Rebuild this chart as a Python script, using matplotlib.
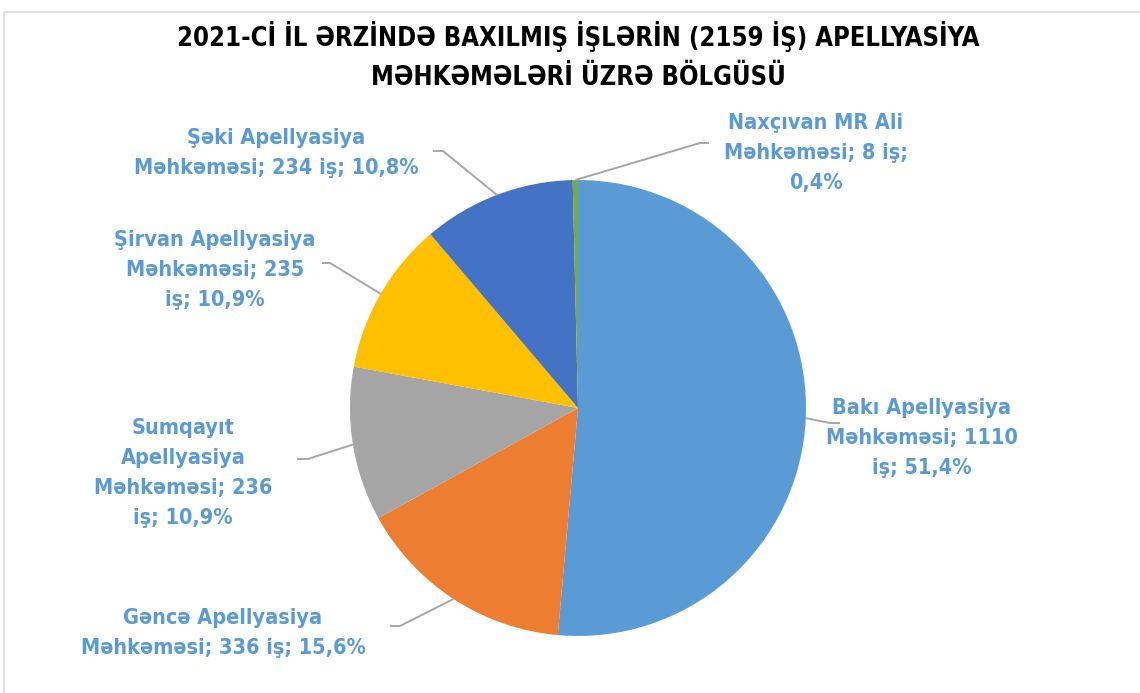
import matplotlib
matplotlib.use("Agg")
import matplotlib.pyplot as plt
from matplotlib.patches import Rectangle
import numpy as np

courts = ["Bakı Apellyasiya Məhkəməsi", "Gəncə Apellyasiya Məhkəməsi",
          "Sumqayıt Apellyasiya Məhkəməsi", "Şirvan Apellyasiya Məhkəməsi",
          "Şəki Apellyasiya Məhkəməsi", "Naxçıvan MR Ali Məhkəməsi"]
cases = [1110, 336, 236, 235, 234, 8]
label_texts = [
    "Bakı Apellyasiya\nMəhkəməsi; 1110\niş; 51,4%",
    "Gəncə Apellyasiya\nMəhkəməsi; 336 iş; 15,6%",
    "Sumqayıt\nApellyasiya\nMəhkəməsi; 236\niş; 10,9%",
    "Şirvan Apellyasiya\nMəhkəməsi; 235\niş; 10,9%",
    "Şəki Apellyasiya\nMəhkəməsi; 234 iş; 10,8%",
    "Naxçıvan MR Ali\nMəhkəməsi; 8 iş;\n0,4%",
]
colors = ["#5B9BD5", "#ED7D31", "#A5A5A5", "#FFC000", "#4472C4", "#70AD47"]
title = "2021-Cİ İL ƏRZİNDƏ BAXILMIŞ İŞLƏRİN (2159 İŞ) APELLYASİYA\nMƏHKƏMƏLƏRİ ÜZRƏ BÖLGÜSÜ"

W, H = 1140, 693
fig = plt.figure(figsize=(W / 100, H / 100), dpi=100)
fig.patch.set_facecolor("white")

cx, cy, R = 578, 408, 228
ax = fig.add_axes([(cx - R) / W, (H - cy - R) / H, 2 * R / W, 2 * R / H])
ax.pie(cases, colors=colors, startangle=90, counterclock=False, radius=1,
       wedgeprops=dict(linewidth=0))
ax.set_xlim(-1, 1)
ax.set_ylim(-1, 1)
ax.set_aspect("auto")
ax.axis("off")

ov = fig.add_axes([0, 0, 1, 1], zorder=5)
ov.set_xlim(0, W)
ov.set_ylim(H, 0)
ov.axis("off")
ov.patch.set_alpha(0)
ov.add_patch(Rectangle((3.5, 11.5), W, H, fill=False, edgecolor="#D9D9D9", lw=1.2))

ov.text(cx, 56, title, ha="center", va="center", fontsize=18.4, fontweight="bold",
        family="DejaVu Sans", fontstretch="condensed", linespacing=1.62, color="black")

label_pos = [
    (922, 438, 830, 840, 423),
    (223, 633, 400, 390, 626),
    (183, 473, 308, 297, 459),
    (215, 270, 330, 322, 263),
    (276, 153, 443, 433, 151),
    (816, 153, 700, 709, 143),
]

total = sum(cases)
start = 90.0
for i, v in enumerate(cases):
    span = 360.0 * v / total
    mid = np.deg2rad(start - span / 2)
    start -= span
    px = cx + R * np.cos(mid)
    py = cy - R * np.sin(mid)
    tx, ty, ex, endx, ey = label_pos[i]
    ov.plot([px, ex, endx], [py, ey, ey], color="#A6A6A6", lw=1.4, solid_capstyle="butt")
    ov.text(tx, ty, label_texts[i], ha="center", va="center", fontsize=15.5,
            fontweight="bold", family="DejaVu Sans", fontstretch="condensed",
            color="#5B9BD5", linespacing=1.62)

fig.savefig("out.png", dpi=100)
